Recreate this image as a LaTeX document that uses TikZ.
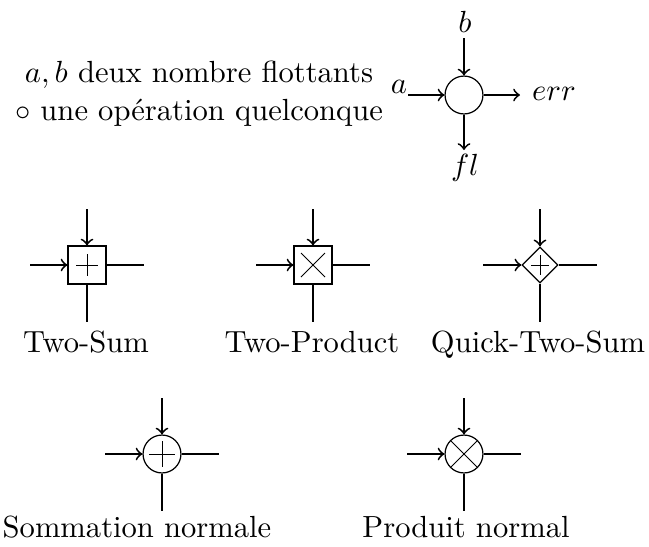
\documentclass[tikz,border=0pt]{standalone}
\usetikzlibrary{shapes.geometric}
\begin{document}
\begin{tikzpicture}[x=0.327pt,y=-0.327pt,
  opcirc/.style={draw,circle,minimum size=12.4pt,inner sep=0pt},
  opbox/.style={draw,rectangle,minimum width=12.4pt,minimum height=12.4pt,inner sep=0pt},
  opdiam/.style={draw,diamond,minimum width=11.8pt,minimum height=11.8pt,inner sep=0pt},
  flow/.style={semithick,->},
  wire/.style={semithick},
  sym/.style={line width=0.25pt},
  lbl/.style={anchor=base,inner sep=0pt}]
\useasboundingbox (0,0) rectangle (649,547);

% ---- top legend ----
\node[lbl] (desc1) at (199,82) {$a,b$ deux nombre flottants};
\node[lbl] (desc2) at (199,120) {$\circ$ une op\'eration quelconque};
\node[opcirc] (op) at (464,95) {};
\node[lbl] (b) at (465,32) {$b$};
\coordinate (bt) at (464,38);
\draw[flow] (bt) -- (op);
\node[lbl] (a) at (399,93) {$a$};
\coordinate (at) at (408,95);
\draw[flow] (at) -- (op);
\coordinate (errs) at (520,95);
\draw[flow] (op) -- (errs);
\node[lbl] (err) at (554,100) {$err$};
\coordinate (fls) at (464,150);
\draw[flow] (op) -- (fls);
\node[lbl] (fl) at (465,175) {$fl$};

% ---- Two-Sum ----
\node[opbox] (ts) at (87,265) {};
\draw[sym] (ts.center) ++(-11,0) -- ++(22,0);
\draw[sym] (ts.center) ++(0,-11) -- ++(0,22);
\coordinate (tsN) at (87,209); \coordinate (tsW) at (30,265);
\coordinate (tsE) at (144,265); \coordinate (tsS) at (87,322);
\draw[flow] (tsN) -- (ts); \draw[flow] (tsW) -- (ts);
\draw[wire] (ts) -- (tsE); \draw[wire] (ts) -- (tsS);
\node[lbl] (tsl) at (86,352) {Two-Sum};

% ---- Two-Product ----
\node[opbox] (tp) at (313,265) {};
\draw[sym] (tp.center) ++(-12,-12) -- ++(24,24);
\draw[sym] (tp.center) ++(-12,12) -- ++(24,-24);
\coordinate (tpN) at (313,209); \coordinate (tpW) at (256,265);
\coordinate (tpE) at (370,265); \coordinate (tpS) at (313,322);
\draw[flow] (tpN) -- (tp); \draw[flow] (tpW) -- (tp);
\draw[wire] (tp) -- (tpE); \draw[wire] (tp) -- (tpS);
\node[lbl] (tpl) at (312,352) {Two-Product};

% ---- Quick-Two-Sum ----
\node[opdiam] (qs) at (540,265) {};
\draw[sym] (qs.center) ++(-9,0) -- ++(18,0);
\draw[sym] (qs.center) ++(0,-10) -- ++(0,20);
\coordinate (qsN) at (540,209); \coordinate (qsW) at (483,265);
\coordinate (qsE) at (597,265); \coordinate (qsS) at (540,322);
\draw[flow] (qsN) -- (qs); \draw[flow] (qsW) -- (qs);
\draw[wire] (qs) -- (qsE); \draw[wire] (qs) -- (qsS);
\node[lbl] (qsl) at (538,352) {Quick-Two-Sum};

% ---- Sommation normale ----
\node[opcirc] (sn) at (162,454) {};
\draw[sym] (sn.center) ++(-13,0) -- ++(26,0);
\draw[sym] (sn.center) ++(0,-13) -- ++(0,26);
\coordinate (snN) at (162,398); \coordinate (snW) at (105,454);
\coordinate (snE) at (219,454); \coordinate (snS) at (162,511);
\draw[flow] (snN) -- (sn); \draw[flow] (snW) -- (sn);
\draw[wire] (sn) -- (snE); \draw[wire] (sn) -- (snS);
\node[lbl] (snl) at (137,537) {Sommation normale};

% ---- Produit normal ----
\node[opcirc] (pn) at (464,454) {};
\draw[sym] (pn.center) ++(-13,-13) -- ++(26,26);
\draw[sym] (pn.center) ++(-13,13) -- ++(26,-26);
\coordinate (pnN) at (464,398); \coordinate (pnW) at (407,454);
\coordinate (pnE) at (521,454); \coordinate (pnS) at (464,511);
\draw[flow] (pnN) -- (pn); \draw[flow] (pnW) -- (pn);
\draw[wire] (pn) -- (pnE); \draw[wire] (pn) -- (pnS);
\node[lbl] (pnl) at (466,537) {Produit normal};
\end{tikzpicture}
\end{document}
